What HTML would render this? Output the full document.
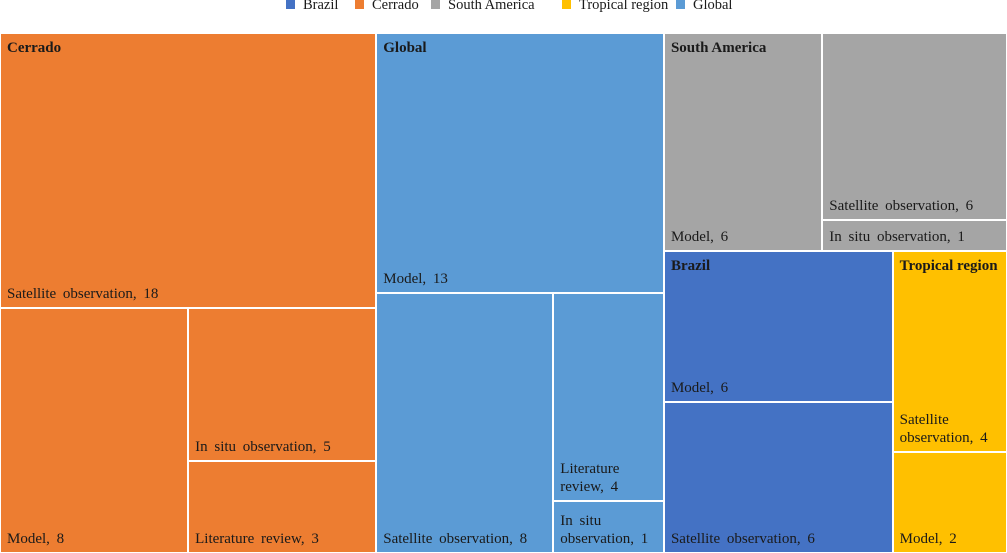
<!DOCTYPE html>
<html><head><meta charset="utf-8">
<style>
html,body{margin:0;padding:0;background:#fff;}
body{width:1007px;height:553px;position:relative;overflow:hidden;font-family:"Liberation Serif",serif;color:#1a1a1a;}
.legend{position:absolute;top:0;left:0;width:1007px;height:14px;font-size:14.5px;}
.li{position:absolute;top:-3px;white-space:nowrap;}
.sw{display:inline-block;width:9px;height:9px;margin-right:8px;vertical-align:0px;}
.cell{position:absolute;box-sizing:border-box;border:1px solid #fff;}
.gname{position:absolute;left:6px;top:6px;font-weight:bold;font-size:15px;}
.lbl{position:absolute;left:6px;right:3px;bottom:4px;font-size:15px;line-height:18px;word-spacing:3px;}
</style></head><body>
<div class="legend" id="legend"></div>
<div id="tm"></div>
<script>
const groups = ["Cerrado","Global","South America","Brazil","Tropical region"];
const groupColors = ["#ED7D31","#5B9BD5","#A5A5A5","#4472C4","#FFC000"];
const cerradoLabels = ["Satellite observation","Model","In situ observation","Literature review"];
const cerradoValues = [18,8,5,3];
const globalLabels = ["Model","Satellite observation","Literature review","In situ observation"];
const globalValues = [13,8,4,1];
const saLabels = ["Model","Satellite observation","In situ observation"];
const saValues = [6,6,1];
const brazilLabels = ["Model","Satellite observation"];
const brazilValues = [6,6];
const tropLabels = ["Satellite observation","Model"];
const tropValues = [4,2];
const legendOrder = ["Brazil","Cerrado","South America","Tropical region","Global"];
const legendX = [286,355,431,562,676];

const X0=0,Y0=33,W=1007,H=520;
const sum=a=>a.reduce((s,v)=>s+v,0);
const tm=document.getElementById('tm');
function color(g){return groupColors[groups.indexOf(g)];}
function cell(x,y,w,h,g,label,val,bold){
  const d=document.createElement('div');
  d.className='cell';
  
  
  d.style.left=x+'px';d.style.top=y+'px';d.style.width=w+'px';d.style.height=h+'px';
  d.style.background=color(g);
  if(bold){const b=document.createElement('div');b.className='gname';b.textContent=g;
    
    
    d.appendChild(b);}
  const l=document.createElement('div');l.className='lbl';l.textContent=label+', '+val;
  
  
  d.appendChild(l);
  tm.appendChild(d);
}
const total=sum(cerradoValues)+sum(globalValues)+sum(saValues)+sum(brazilValues)+sum(tropValues);
const cW=W*sum(cerradoValues)/total;
{const v=cerradoValues,L=cerradoLabels,g="Cerrado",T=sum(v);
 const h0=H*v[0]/T; cell(X0,Y0,cW,h0,g,L[0],v[0],true);
 const rest=T-v[0],w1=cW*v[1]/rest; cell(X0,Y0+h0,w1,H-h0,g,L[1],v[1]);
 const hh=(H-h0)*v[2]/(v[2]+v[3]); cell(X0+w1,Y0+h0,cW-w1,hh,g,L[2],v[2]);
 cell(X0+w1,Y0+h0+hh,cW-w1,H-h0-hh,g,L[3],v[3]);}
const gX=X0+cW,gW=W*sum(globalValues)/total;
{const v=globalValues,L=globalLabels,g="Global",T=sum(v);
 const h0=H*v[0]/T; cell(gX,Y0,gW,h0,g,L[0],v[0],true);
 const rest=T-v[0],w1=gW*v[1]/rest; cell(gX,Y0+h0,w1,H-h0,g,L[1],v[1]);
 const hh=(H-h0)*v[2]/(v[2]+v[3]); cell(gX+w1,Y0+h0,gW-w1,hh,g,L[2],v[2]);
 cell(gX+w1,Y0+h0+hh,gW-w1,H-h0-hh,g,L[3],v[3]);}
const rX=gX+gW,rW=W-rX;
const rT=sum(saValues)+sum(brazilValues)+sum(tropValues);
const saH=H*sum(saValues)/rT;
{const v=saValues,L=saLabels,g="South America",T=sum(v);
 const w0=rW*v[0]/T; cell(rX,Y0,w0,saH,g,L[0],v[0],true);
 const hh=saH*v[1]/(v[1]+v[2]); cell(rX+w0,Y0,rW-w0,hh,g,L[1],v[1]);
 cell(rX+w0,Y0+hh,rW-w0,saH-hh,g,L[2],v[2]);}
const bY=Y0+saH,bH=H-saH,bW=rW*sum(brazilValues)/(sum(brazilValues)+sum(tropValues));
{const v=brazilValues,L=brazilLabels,g="Brazil",T=sum(v);
 const h0=bH*v[0]/T; cell(rX,bY,bW,h0,g,L[0],v[0],true);
 cell(rX,bY+h0,bW,bH-h0,g,L[1],v[1]);}
{const v=tropValues,L=tropLabels,g="Tropical region",T=sum(v);
 const h0=bH*v[0]/T; cell(rX+bW,bY,rW-bW,h0,g,L[0],v[0],true);
 cell(rX+bW,bY+h0,rW-bW,bH-h0,g,L[1],v[1]);}
const lg=document.getElementById('legend');
legendOrder.forEach((n,i)=>{
  const e=document.createElement('span');e.className='li';e.style.left=legendX[i]+'px';
  
  
  e.innerHTML='<span class="sw" style="background:'+color(n)+'"></span>'+n;
  lg.appendChild(e);
});
</script>
</body></html>
